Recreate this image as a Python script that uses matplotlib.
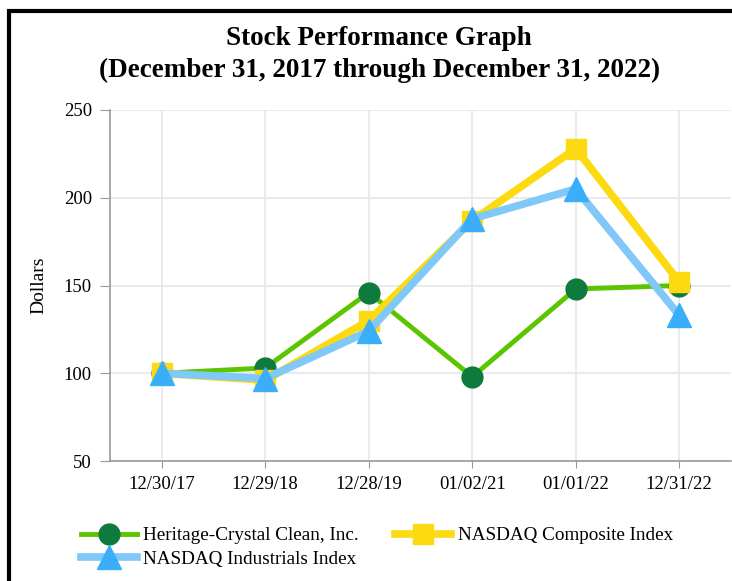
import matplotlib
matplotlib.use('Agg')
import matplotlib.pyplot as plt
from matplotlib.patches import Rectangle

plt.rcParams['font.family'] = ['Liberation Serif', 'DejaVu Serif']

dates = ['12/30/17', '12/29/18', '12/28/19', '01/02/21', '01/01/22', '12/31/22']
heritage = [100, 103, 146, 98, 148, 150]
composite = [100, 96, 130, 187, 228, 152]
industrials = [100, 97, 124, 188, 205, 133]
yticks = [50, 100, 150, 200, 250]

W, H = 732, 581
fig = plt.figure(figsize=(W/100, H/100), dpi=100)
ax = fig.add_axes([110/W, 1-461/H, 621/W, 351/H])

x = list(range(len(dates)))
h1, = ax.plot(x, heritage, color='#5BC500', lw=3.5, marker='o', ms=15,
              mfc='#0E7A3E', mec='#0E7A3E', label='Heritage-Crystal Clean, Inc.', zorder=3)
h2, = ax.plot(x, composite, color='#FCDA11', lw=5.5, marker='s', ms=15,
              mfc='#FCDA11', mec='#FCDA11', label='NASDAQ Composite Index', zorder=4)
h3, = ax.plot(x, industrials, color='#80C8F8', lw=5.5, marker='^', ms=17,
              mfc='#3AAEF8', mec='#3AAEF8', label='NASDAQ Industrials Index', zorder=5)

ax.set_xlim(-0.5, 5.5)
ax.set_ylim(50, 250)
ax.set_xticks(x)
ax.set_xticklabels(dates)
ax.set_yticks(yticks)
ax.tick_params(axis='both', labelsize=13.5, colors='#999999', labelcolor='black')
ax.tick_params(axis='y', length=7, pad=6)
ax.tick_params(axis='x', length=5, pad=6)
ax.grid(True, color='#E6E6E6', lw=1.2)
ax.set_axisbelow(True)
for s in ['top', 'right']:
    ax.spines[s].set_visible(False)
for s in ['left', 'bottom']:
    ax.spines[s].set_color('#999999')
    ax.spines[s].set_linewidth(1.2)
ax.set_ylabel('Dollars', fontsize=14, labelpad=12)

fig.text(379/W, 1-45/H, 'Stock Performance Graph', ha='center', va='baseline',
         fontsize=19.5, fontweight='bold')
fig.text(380/W, 1-77/H, '(December 31, 2017 through December 31, 2022)', ha='center',
         va='baseline', fontsize=19.5, fontweight='bold')

ax.legend([h1, h3, h2], [h1.get_label(), h3.get_label(), h2.get_label()],
          loc='upper left', bbox_to_anchor=(81/W, 1-527/H), bbox_transform=fig.transFigure,
          ncol=2, frameon=False, fontsize=13.8, handlelength=2.9, columnspacing=1.9,
          labelspacing=0.3, handletextpad=0.35, borderpad=0, borderaxespad=0)

fig.patches.append(Rectangle((9/W, -0.1), 1.0, 1-11/H+0.1, transform=fig.transFigure,
                             fill=False, ec='black', lw=3))

fig.savefig('out.png', dpi=100)
